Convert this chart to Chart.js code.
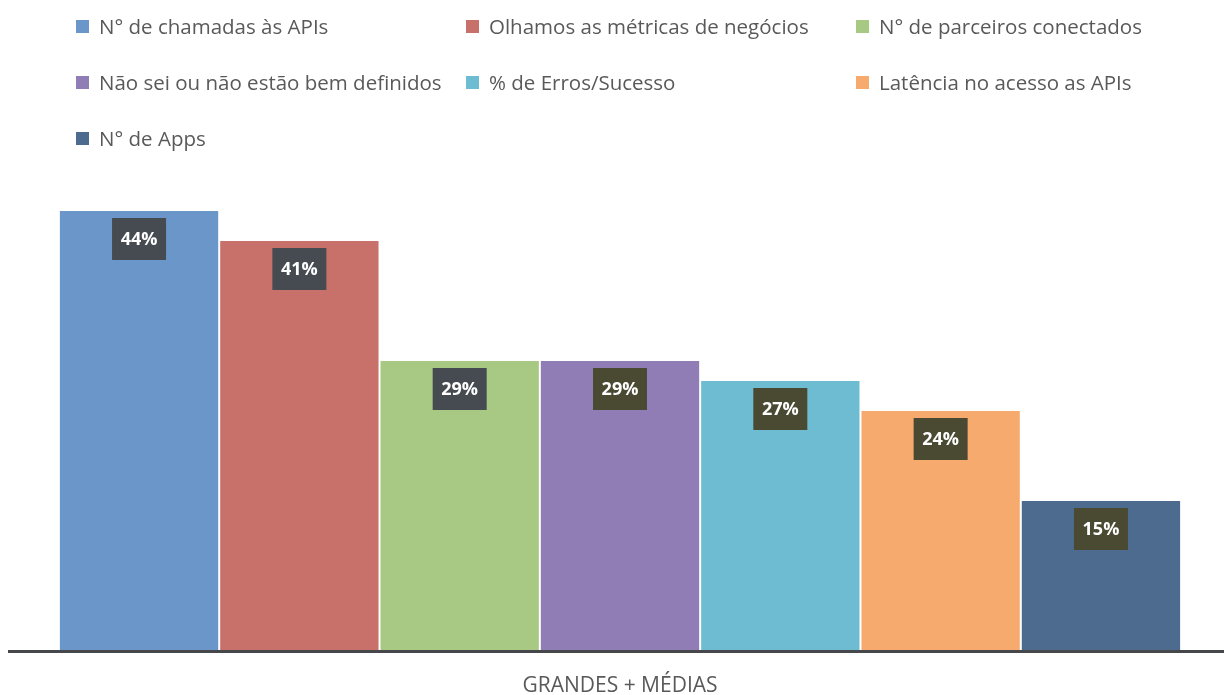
<!DOCTYPE html>
<html>
<head>
<meta charset="utf-8">
<script src="https://cdn.jsdelivr.net/npm/chart.js@4.4.1/dist/chart.umd.min.js"></script>
<style>
  html, body { margin: 0; padding: 0; background: #fff; }
  #wrap { position: relative; width: 1224px; height: 695px; }
  #chart { position: absolute; left: 0; top: 0; }
  #legend { position: absolute; left: 0; top: 0; width: 1224px; height: 160px; }
  .item { position: absolute; display: flex; align-items: center; height: 28px;
          font-family: "Open Sans"; font-size: 20.5px; color: #595959; white-space: nowrap; }
  .box { width: 13px; height: 13px; margin-right: 10px; }
</style>
</head>
<body>
<div id="wrap">
  <canvas id="chart" width="1224" height="695"></canvas>
  <div id="legend"></div>
</div>
<script>
// data
const categories = ['GRANDES + MÉDIAS'];
const seriesNames = [
    'N° de chamadas às APIs',
    'Olhamos as métricas de negócios',
    'N° de parceiros conectados',
    'Não sei ou não estão bem definidos',
    '% de Erros/Sucesso',
    'Latência no acesso as APIs',
    'N° de Apps'
];
const seriesValues = [44, 41, 29, 29, 27, 24, 15];
const seriesColors = ['#6a96c9', '#c8716a', '#a8c984', '#917db5', '#6dbcd1', '#f7aa6e', '#4d6a8f'];
const labelBoxColors = ['#464b52', '#464b52', '#464b52', '#4a4932', '#4a4932', '#4a4932', '#4a4932'];

// dark label boxes inside bars
const valueBoxes = {
    id: 'valueBoxes',
    afterDatasetsDraw(chart) {
        const ctx = chart.ctx;
        chart.data.datasets.forEach((ds, i) => {
            const bar = chart.getDatasetMeta(i).data[0];
            const w = 54, h = 42;
            const y = bar.y + 8;
            ctx.save();
            ctx.fillStyle = labelBoxColors[i];
            ctx.fillRect(bar.x - w / 2, y, w, h);
            ctx.fillStyle = '#ffffff';
            ctx.font = 'bold 18px "Open Sans"';
            ctx.textAlign = 'center';
            ctx.textBaseline = 'middle';
            ctx.fillText(ds.data[0] + '%', bar.x, y + h / 2 + 1);
            ctx.restore();
        });
    }
};

// thick baseline running past the left edge of the plot
const baseLine = {
    id: 'baseLine',
    afterDatasetsDraw(chart) {
        const ctx = chart.ctx;
        const y = chart.chartArea.bottom + 1.5;
        ctx.save();
        ctx.strokeStyle = '#45474a';
        ctx.lineWidth = 3;
        ctx.beginPath();
        ctx.moveTo(8, y);
        ctx.lineTo(chart.width, y);
        ctx.stroke();
        ctx.restore();
    }
};

const chart = new Chart(document.getElementById('chart'), {
    type: 'bar',
    data: {
        labels: categories,
        datasets: seriesNames.map((name, i) => ({
            label: name,
            data: [seriesValues[i]],
            backgroundColor: seriesColors[i],
            borderColor: 'rgba(255,255,255,0.8)',
            borderWidth: 1,
            borderSkipped: 'bottom'
        }))
    },
    options: {
        responsive: false,
        animation: false,
        categoryPercentage: 0.929,
        barPercentage: 1,
        layout: { padding: { left: 16, right: 0, top: 150, bottom: 0 } },
        plugins: {
            legend: { display: false },
            tooltip: { enabled: false }
        },
        scales: {
            x: {
                grid: { display: false, drawTicks: false },
                border: { display: false },
                ticks: { font: { family: 'Open Sans', size: 21 }, color: '#595959', padding: 23 },
                afterFit(scale) { scale.height = 45; }
            },
            y: {
                display: false,
                min: 0,
                max: 50
            }
        }
    },
    plugins: [valueBoxes, baseLine]
});

// legend in three columns
const legendEl = document.getElementById('legend');
chart.data.datasets.forEach((ds, i) => {
    const item = document.createElement('div');
    item.className = 'item';
    item.style.left = (76 + (i % 3) * 390) + 'px';
    item.style.top = (12 + Math.floor(i / 3) * 56) + 'px';
    const box = document.createElement('span');
    box.className = 'box';
    box.style.background = ds.backgroundColor;
    item.appendChild(box);
    item.appendChild(document.createTextNode(ds.label));
    legendEl.appendChild(item);
});
</script>
</body>
</html>
